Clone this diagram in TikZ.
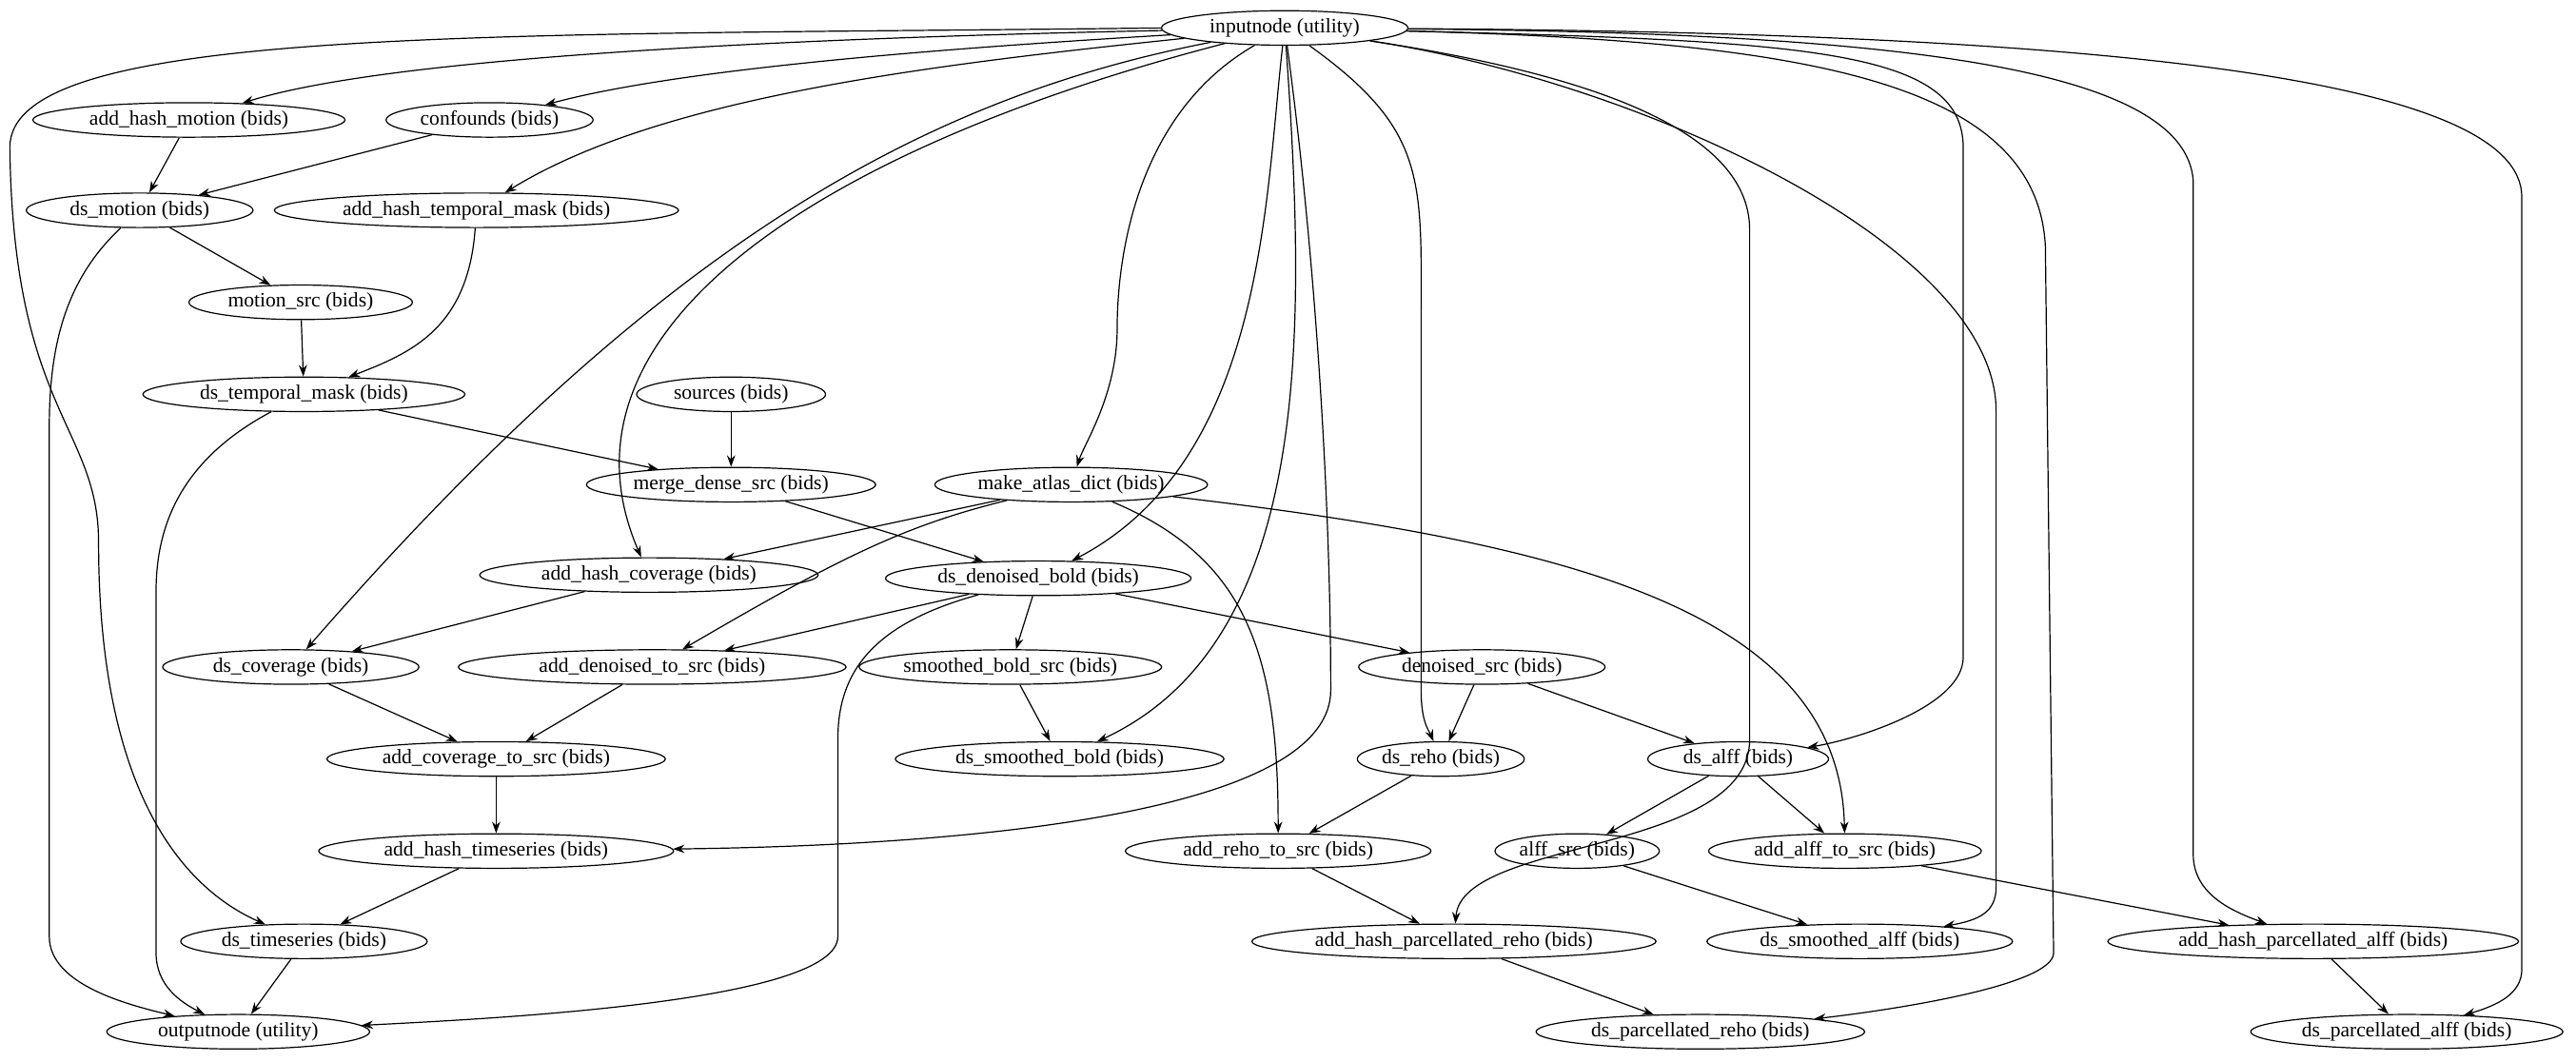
\documentclass[tikz,border=0pt]{standalone}
\usepackage{fontspec}
\setmainfont{Liberation Serif}
\usetikzlibrary{arrows.meta,shapes.geometric}
\begin{document}
\begin{tikzpicture}[x=1pt,y=1pt,
  nd/.style={draw,ellipse,inner sep=0pt,minimum height=21pt,font=\fontsize{12.5}{13}\selectfont},
  ed/.style={-{Stealth[length=7pt,width=5pt]},line width=0.7pt},
  every node/.append style={line width=0.7pt}]
\useasboundingbox (0,0) rectangle (1568,-646);
\newcommand\N[5]{\node[nd,minimum width=#4pt] (#1) at (#2,-#3) {#5};}
\N{in}{782}{17}{150}{inputnode (utility)}
\N{ahm}{115}{73}{190}{add\_hash\_motion (bids)}
\N{conf}{298}{73}{126}{confounds (bids)}
\N{dsm}{85}{128}{138}{ds\_motion (bids)}
\N{ahtm}{290}{128}{246}{add\_hash\_temporal\_mask (bids)}
\N{msrc}{183}{184}{136}{motion\_src (bids)}
\N{dstm}{185}{240}{196}{ds\_temporal\_mask (bids)}
\N{src}{445}{240}{115}{sources (bids)}
\N{mds}{445}{295}{176}{merge\_dense\_src (bids)}
\N{mad}{652}{295}{166}{make\_atlas\_dict (bids)}
\N{ahc}{395}{350}{206}{add\_hash\_coverage (bids)}
\N{ddb}{632}{352}{186}{ds\_denoised\_bold (bids)}
\N{dsc}{177}{406}{156}{ds\_coverage (bids)}
\N{adts}{397}{406}{236}{add\_denoised\_to\_src (bids)}
\N{sbs}{615}{406}{176}{smoothed\_bold\_src (bids)}
\N{dns}{902}{406}{150}{denoised\_src (bids)}
\N{acts}{302}{462}{206}{add\_coverage\_to\_src (bids)}
\N{dsb}{645}{462}{200}{ds\_smoothed\_bold (bids)}
\N{dr}{877}{462}{100}{ds\_reho (bids)}
\N{da}{1058}{462}{110}{ds\_alff (bids)}
\N{aht}{302}{518}{216}{add\_hash\_timeseries (bids)}
\N{arts}{778}{518}{186}{add\_reho\_to\_src (bids)}
\N{asrc}{960}{518}{100}{alff\_src (bids)}
\N{aats}{1123}{518}{166}{add\_alff\_to\_src (bids)}
\N{dts}{185}{573}{150}{ds\_timeseries (bids)}
\N{ahpr}{885}{573}{246}{add\_hash\_parcellated\_reho (bids)}
\N{dsa}{1132}{573}{186}{ds\_smoothed\_alff (bids)}
\N{ahpa}{1408}{573}{250}{add\_hash\_parcellated\_alff (bids)}
\N{out}{145}{628}{160}{outputnode (utility)}
\N{dpr}{1035}{628}{200}{ds\_parcellated\_reho (bids)}
\N{dpa}{1465}{628}{190}{ds\_parcellated\_alff (bids)}

% inputnode edges
\draw[ed] (in) .. controls (400,-25) and (220,-40) .. (ahm);
\draw[ed] (in) .. controls (600,-28) and (420,-40) .. (conf);
\draw[ed] (in) .. controls (560,-40) and (400,-60) .. (ahtm);
\draw[ed] (in.west) .. controls (300,-22) and (5,-15) .. (6,-90) .. controls (8,-250) and (60,-260) .. (60,-330) .. controls (60,-480) and (110,-540) .. (dts);
\draw[ed] (in) .. controls (560,-60) and (400,-150) .. (dsc);
\draw[ed] (in) .. controls (500,-90) and (330,-200) .. (ahc);
\draw[ed] (in) .. controls (690,-70) and (680,-160) .. (680,-200) .. controls (680,-240) and (660,-270) .. (mad);
\draw[ed] (in) .. controls (770,-120) and (770,-280) .. (ddb);
\draw[ed] (in) .. controls (795,-200) and (800,-390) .. (dsb);
\draw[ed] (in) .. controls (800,-150) and (810,-300) .. (810,-420) .. controls (810,-500) and (560,-515) .. (aht);
\draw[ed] (in) .. controls (870,-80) and (865,-110) .. (865,-200) -- (865,-420) .. controls (865,-440) and (870,-445) .. (dr);
\draw[ed] (in) .. controls (1000,-50) and (1065,-90) .. (1065,-140) -- (1065,-450) .. controls (1065,-520) and (890,-510) .. (ahpr);
\draw[ed] (in) .. controls (1100,-25) and (1195,-30) .. (1195,-90) -- (1195,-400) .. controls (1195,-430) and (1130,-450) .. (da);
\draw[ed] (in) .. controls (1000,-50) and (1215,-150) .. (1215,-250) -- (1215,-540) .. controls (1215,-555) and (1205,-560) .. (dsa);
\draw[ed] (in) .. controls (1100,-25) and (1240,-50) .. (1245,-150) -- (1250,-580) .. controls (1250,-600) and (1150,-615) .. (dpr);
\draw[ed] (in) .. controls (1150,-20) and (1330,-40) .. (1335,-110) -- (1335,-520) .. controls (1335,-545) and (1360,-555) .. (ahpa);
\draw[ed] (in) .. controls (1300,-20) and (1535,-50) .. (1535,-120) -- (1535,-590) .. controls (1535,-605) and (1520,-612) .. (dpa);

% other edges
\draw[ed] (ahm) -- (dsm);
\draw[ed] (conf) -- (dsm);
\draw[ed] (dsm) -- (msrc);
\draw[ed] (dsm) .. controls (40,-170) and (30,-210) .. (30,-260) -- (30,-570) .. controls (30,-600) and (80,-612) .. (out);
\draw[ed] (msrc) -- (dstm);
\draw[ed] (ahtm) .. controls (285,-200) and (250,-215) .. (dstm);
\draw[ed] (dstm) -- (mds);
\draw[ed] (dstm) .. controls (110,-280) and (95,-320) .. (95,-360) -- (95,-580) .. controls (95,-600) and (110,-610) .. (out);
\draw[ed] (src) -- (mds);
\draw[ed] (mds) -- (ddb);
\draw[ed] (mad) -- (ahc);
\draw[ed] (mad) .. controls (550,-320) and (510,-340) .. (adts);
\draw[ed] (mad) .. controls (760,-340) and (778,-400) .. (arts);
\draw[ed] (mad) .. controls (950,-330) and (1120,-370) .. (aats);
\draw[ed] (ahc) -- (dsc);
\draw[ed] (ddb) -- (adts);
\draw[ed] (ddb) -- (sbs);
\draw[ed] (ddb) -- (dns);
\draw[ed] (ddb) .. controls (530,-380) and (510,-410) .. (510,-450) -- (510,-570) .. controls (510,-610) and (300,-620) .. (out);
\draw[ed] (dsc) -- (acts);
\draw[ed] (adts) -- (acts);
\draw[ed] (sbs) -- (dsb);
\draw[ed] (dns) -- (dr);
\draw[ed] (dns) -- (da);
\draw[ed] (acts) -- (aht);
\draw[ed] (aht) -- (dts);
\draw[ed] (dts) -- (out);
\draw[ed] (dr) -- (arts);
\draw[ed] (da) -- (asrc);
\draw[ed] (da) -- (aats);
\draw[ed] (asrc) -- (dsa);
\draw[ed] (aats) -- (ahpa);
\draw[ed] (arts) -- (ahpr);
\draw[ed] (ahpr) -- (dpr);
\draw[ed] (ahpa) -- (dpa);
\end{tikzpicture}
\end{document}
